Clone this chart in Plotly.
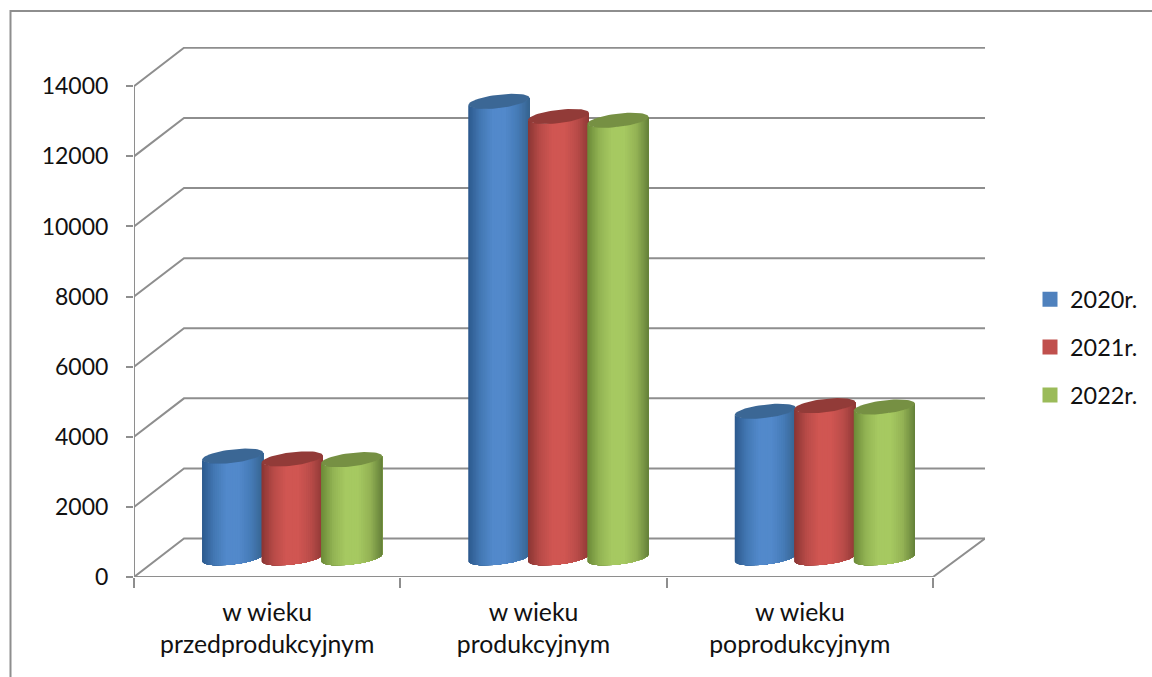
import math
import plotly.graph_objects as go

categories = ["w wieku<br>przedprodukcyjnym", "w wieku<br>produkcyjnym", "w wieku<br>poprodukcyjnym"]
years = ["2020r.", "2021r.", "2022r."]
v2020 = [2900, 13020, 4180]
v2021 = [2820, 12590, 4340]
v2022 = [2800, 12480, 4300]
value_ticks = [0, 2000, 4000, 6000, 8000, 10000, 12000, 14000]

BASE = ["#4F81BD", "#C0504D", "#9BBB59"]
STOPS = [
    ["#2d5a8e", "#4378b4", "#5289cb", "#5289cb", "#467bb7", "#36648f"],
    ["#8a3634", "#b84b48", "#d05652", "#d05652", "#ba4c49", "#8f3936"],
    ["#6c8a38", "#93b454", "#a6c961", "#a6c961", "#94b355", "#65813a"],
]
TOP = ["#3b6795", "#923b38", "#769043"]
GRID = "#8e8e8e"
FONT = "Lato"
FS = 24.8

PX_PER_CAT = 266.33
PX_PER_VAL = 491.7 / 14000
L, R, T, B = 134, 985, 46.5, 577.5
XR = (R - L) / PX_PER_CAT
YR = (B - T) / PX_PER_VAL
DX = 50 / PX_PER_CAT
DY = 38.5 / PX_PER_VAL

A = 30.5 / PX_PER_CAT
TILT = 3.5 / PX_PER_VAL
MINOR = 6.7 / PX_PER_VAL
SPACING = 59.5 / PX_PER_CAT
N = 40


def hex2rgb(h):
    return [int(h[i:i + 2], 16) for i in (1, 3, 5)]


def shade(stops, u):
    p = u * (len(stops) - 1)
    i = min(int(p), len(stops) - 2)
    f = p - i
    a, b = hex2rgb(stops[i]), hex2rgb(stops[i + 1])
    return "#%02x%02x%02x" % tuple(round(a[k] + (b[k] - a[k]) * f) for k in range(3))


def rim(cx, cy, t):
    return cx + A * math.cos(t), cy + TILT * math.cos(t) - MINOR * math.sin(t)


fig = go.Figure()


def line(xs, ys, w=2):
    fig.add_trace(go.Scatter(x=xs, y=ys, mode="lines", line=dict(color=GRID, width=w),
                             showlegend=False, hoverinfo="skip", cliponaxis=False))


# walls and floor
for v in value_ticks:
    line([0, DX, XR], [v, v + DY, v + DY])
line([0, 0], [0, 14000])
line([0, 3, 3 + 52 / PX_PER_CAT], [0, 0, DY])

# cylinders: each strip is painted from its left edge to the right rim, the next covers it
series = [v2020, v2021, v2022]
for c in range(len(categories)):
    center = c + 0.5 + DX / 2
    for s, vals in enumerate(series):
        cx = center + (s - 1) * SPACING
        base = DY / 2
        top = base + vals[c]
        for i in range(N):
            ts = [math.pi * (1 - j / N) for j in range(i, N + 1)]
            upper = [rim(cx, top, t) for t in ts]
            lower = [rim(cx, base, t) for t in reversed(ts)]
            poly = upper + lower + upper[:1]
            u = (math.cos(math.pi * (1 - (i + 0.5) / N)) + 1) / 2
            col = shade(STOPS[s], u)
            fig.add_trace(go.Scatter(x=[p[0] for p in poly], y=[p[1] for p in poly], mode="lines",
                                     fill="toself", fillcolor=col, line=dict(width=0),
                                     showlegend=False, hoverinfo="skip", cliponaxis=False))
        pts = [rim(cx, top, 2 * math.pi * k / 60) for k in range(61)]
        fig.add_trace(go.Scatter(x=[p[0] for p in pts], y=[p[1] for p in pts], mode="lines",
                                 fill="toself", fillcolor=TOP[s], line=dict(width=0),
                                 showlegend=False, hoverinfo="skip", cliponaxis=False))

# legend entries
for s, y in enumerate(years):
    fig.add_trace(go.Scatter(x=[None], y=[None], mode="markers", name=y, legendgroup=y,
                             marker=dict(symbol="square", size=15, color=BASE[s])))

# category labels on an overlay axis
fig.add_trace(go.Scatter(x=[None], y=[None], xaxis="x2", showlegend=False, hoverinfo="skip"))

fig.update_layout(
    width=1152, height=677, autosize=False,
    margin=dict(l=L, r=1152 - R, t=T, b=677 - B, autoexpand=False),
    paper_bgcolor="white", plot_bgcolor="white",
    font=dict(family=FONT, size=FS, color="#111111"),
    xaxis=dict(range=[0, XR], tickmode="array", tickvals=[0, 1, 2, 3], ticktext=["", "", "", ""],
               ticks="outside", ticklen=10, tickwidth=2, tickcolor=GRID, automargin=False,
               showgrid=False, zeroline=False, showline=False),
    xaxis2=dict(overlaying="x", side="bottom", anchor="y", range=[0, XR], tickmode="array",
                tickvals=[0.5, 1.5, 2.5], ticktext=categories, ticks="", ticklabelstandoff=18,
                tickangle=0, showgrid=False, zeroline=False, showline=False, tickfont=dict(size=FS)),
    yaxis=dict(range=[0, YR], tickmode="array", tickvals=value_ticks,
               ticktext=[str(v) for v in value_ticks], ticks="outside", ticklen=7,
               tickwidth=2, tickcolor=GRID, showgrid=False, zeroline=False, showline=False,
               ticklabelstandoff=13, tickfont=dict(size=23), automargin=False),
    legend=dict(x=(1030 - L) / (R - L), xanchor="left", y=(B - 347.5) / (B - T), yanchor="middle",
                tracegroupgap=14.5, font=dict(size=23.4), bgcolor="rgba(0,0,0,0)"),
    shapes=[dict(type="path", xref="paper", yref="paper", layer="below",
                 path="M %f %f L %f %f L %f %f" % (
                     (10.5 - L) / (R - L), (B - 690) / (B - T),
                     (10.5 - L) / (R - L), (B - 10.5) / (B - T),
                     (1160 - L) / (R - L), (B - 10.5) / (B - T)),
                 line=dict(color=GRID, width=2))],
)

fig.write_html("out.html", config=dict(displayModeBar=False),
               post_script="document.body.style.margin='0';document.body.style.overflow='hidden';")
